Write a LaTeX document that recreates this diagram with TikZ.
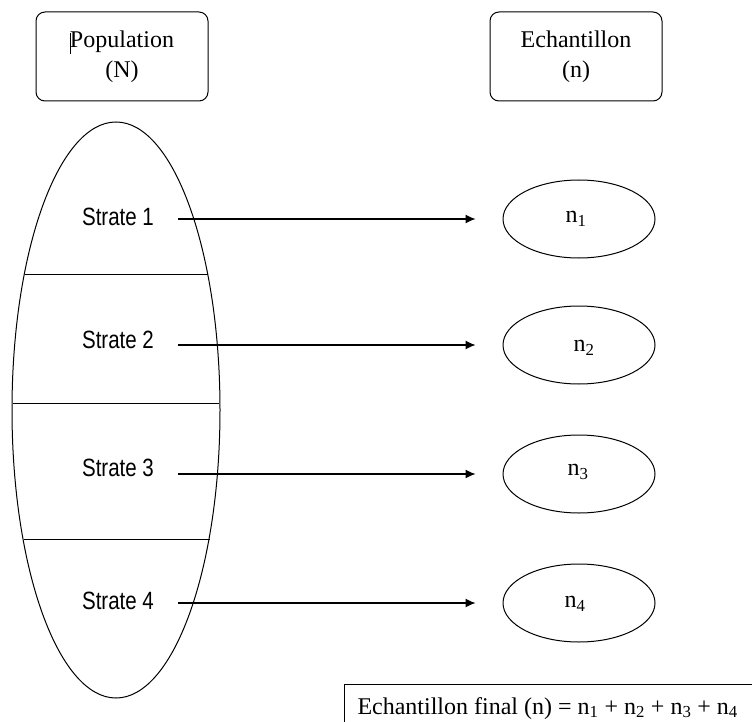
\documentclass[tikz,border=0pt]{standalone}
\usepackage{fontspec}
\setmainfont{Liberation Serif}
\newfontfamily\narrowsans[FakeStretch=0.82]{Liberation Sans}
\usetikzlibrary{arrows.meta,shapes.geometric}
\begin{document}
\begin{tikzpicture}[x=1pt,y=-1pt,
  line width=1pt,
  headbox/.style={draw, rounded corners=9pt, minimum width=172pt, minimum height=89pt,
    align=center, font=\fontsize{24}{30}\selectfont},
  sample/.style={draw, ellipse, minimum width=152pt, minimum height=78pt,
    font=\fontsize{24}{28}\selectfont},
  stratelabel/.style={font=\narrowsans\fontsize{25}{28}\selectfont},
  link/.style={-{Latex[length=10pt,width=9pt]}, line width=1.2pt, shorten >=27pt}]
\useasboundingbox (0,0) rectangle (752,722);
\clip (0,0) rectangle (752,722);

% heading boxes
\node[headbox] (pop) at (122,56.5) {Population\\(N)};
\node[headbox] (ech) at (576,56.5) {Echantillon\\(n)};
\draw[line width=0.6pt] (70.5,33) -- (70.5,54);

% population split into four strata
\draw (116,410) ellipse [x radius=104, y radius=288];
\draw (25,274) -- (208,274);
\draw (13,403) -- (219,403);
\draw (24,539) -- (210,539);

\node[stratelabel] (s1) at (118,217) {Strate 1};
\node[stratelabel] (s2) at (118,340) {Strate 2};
\node[stratelabel] (s3) at (118,468) {Strate 3};
\node[stratelabel] (s4) at (118,601) {Strate 4};

% sub-samples
\node[sample] (n1) at (579,219) {};
\node[sample] (n2) at (579,345) {};
\node[sample] (n3) at (579,474) {};
\node[sample] (n4) at (579,603) {};
\node[font=\fontsize{24}{28}\selectfont] (l1) at (576,219) {n\textsubscript{1}};
\node[font=\fontsize{24}{28}\selectfont] (l2) at (584,348) {n\textsubscript{2}};
\node[font=\fontsize{24}{28}\selectfont] (l3) at (578,472) {n\textsubscript{3}};
\node[font=\fontsize{24}{28}\selectfont] (l4) at (575,604) {n\textsubscript{4}};

% arrows from each stratum to its sample
\coordinate (a1) at (178,219);
\coordinate (a2) at (178,345);
\coordinate (a3) at (178,474);
\coordinate (a4) at (178,603);
\draw[link] (a1) -- (n1.west);
\draw[link] (a2) -- (n2.west);
\draw[link] (a3) -- (n3.west);
\draw[link] (a4) -- (n4.west);

% final sample box
\draw (344,740) -- (344,684) -- (760,684);
\node[anchor=base west, inner sep=0pt, font=\fontsize{24}{28}\selectfont] (fin) at (357,714)
  {Echantillon final (n) = n\textsubscript{1} + n\textsubscript{2} + n\textsubscript{3} + n\textsubscript{4}};
\end{tikzpicture}
\end{document}
